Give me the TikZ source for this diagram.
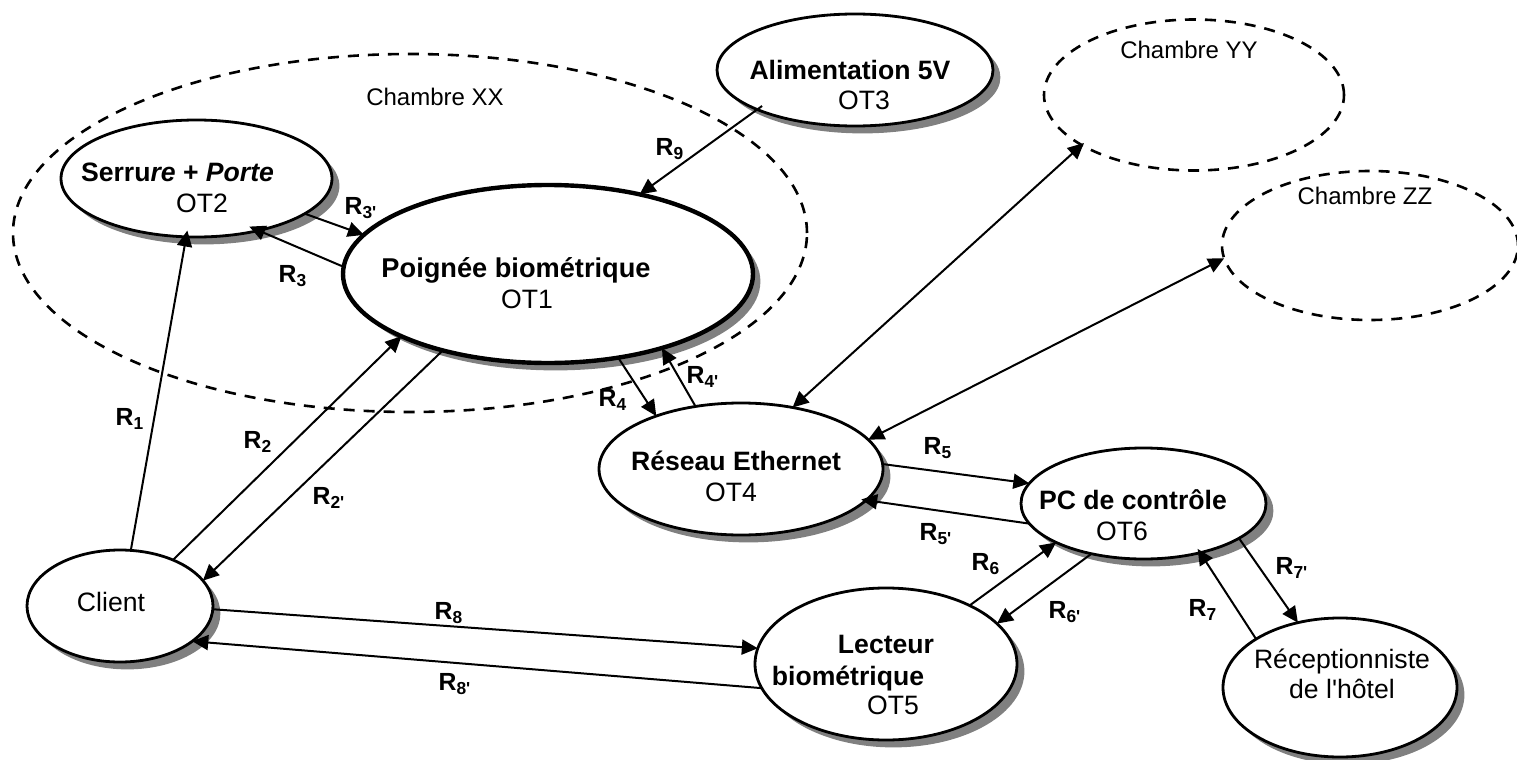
\documentclass[tikz,border=0pt]{standalone}
\usepackage{fontspec}
\usetikzlibrary{shapes.geometric,shadows,arrows.meta}
\newfontfamily\arial{Liberation Sans}
\newcommand{\relname}[1]{R\textsubscript{#1}}
\tikzset{
  oval/.style={ellipse,draw,line width=1.4pt,fill=white,inner sep=0pt,outer sep=0pt,
    drop shadow={shadow xshift=3.7pt,shadow yshift=-3.7pt,opacity=1,fill=black!50}},
  room/.style={ellipse,draw,line width=1.3pt,dash pattern=on 5.5pt off 4.5pt,inner sep=0pt,outer sep=0pt},
  txt/.style={font=\arial\fontsize{13.3}{15}\selectfont,inner sep=0pt,text height=9.5pt,text depth=0pt},
  roomtxt/.style={txt,font=\arial\fontsize{12}{14}\selectfont,text height=8.6pt},
  titre/.style={txt,font=\arial\fontsize{13.3}{15}\selectfont\bfseries},
  rel/.style={txt,font=\arial\fontsize{12.4}{14}\selectfont\bfseries,text height=8.9pt},
  link/.style={line width=1pt,-{Triangle[length=8pt,width=7.5pt]}},
  both/.style={line width=1pt,{Triangle[length=8pt,width=7.5pt]}-{Triangle[length=8pt,width=7.5pt]}}
}

\begin{document}
\begin{tikzpicture}[x=0.5pt,y=-0.5pt]
  \useasboundingbox (0,0) rectangle (1517,760);

  \node[room,minimum width=397pt,minimum height=179pt] (xx) at (410,233) {};
  \node[room,minimum width=150pt,minimum height=75.5pt] (yy) at (1194,95) {};
  \node[room,minimum width=148pt,minimum height=74.5pt] (zz) at (1370,245.5) {};

  \node[oval,minimum width=135.5pt,minimum height=58.5pt] (serrure) at (196.5,178.5) {};
  \node[oval,line width=2.2pt,minimum width=205pt,minimum height=89pt] (poignee) at (548,274) {};
  \node[oval,minimum width=138pt,minimum height=56pt] (alim) at (855,70) {};
  \node[oval,minimum width=142pt,minimum height=66pt] (reseau) at (741,469) {};
  \node[oval,minimum width=122.5pt,minimum height=55.5pt] (pc) at (1143.5,503.5) {};
  \node[oval,minimum width=131pt,minimum height=76pt] (lecteur) at (886,664) {};
  \node[oval,minimum width=117pt,minimum height=69.5pt] (recep) at (1340,687.5) {};
  \node[oval,minimum width=93pt,minimum height=56pt] (client) at (120,606) {};

  \node[roomtxt] (xxT) at (435,97) {Chambre XX};
  \node[roomtxt] (yyT) at (1189,50) {Chambre YY};
  \node[roomtxt] (zzT) at (1365,196) {Chambre ZZ};
  \node[titre] (serrureT) at (177.5,172) {Serru\textit{re} + \textit{Porte}};
  \node[txt] (serrureO) at (202,203) {OT2};
  \node[titre,font=\arial\fontsize{13.6}{15}\selectfont\bfseries] (poigneeT) at (516,268) {Poignée biométrique};
  \node[txt] (poigneeO) at (527,299) {OT1};
  \node[titre] (alimT) at (850,70) {Alimentation 5V};
  \node[txt] (alimO) at (864,100) {OT3};
  \node[titre] (reseauT) at (736,461) {Réseau Ethernet};
  \node[txt] (reseauO) at (731,492) {OT4};
  \node[titre] (pcT) at (1133,500) {PC de contrôle};
  \node[txt] (pcO) at (1122,531) {OT6};
  \node[titre] (lecteurT) at (886,644) {Lecteur};
  \node[titre] (lecteurU) at (848,676) {biométrique};
  \node[txt] (lecteurO) at (893,705) {OT5};
  \node[txt] (clientT) at (111,602) {Client};
  \node[txt] (recepT) at (1342,659) {Réceptionniste};
  \node[txt] (recepU) at (1342,689) {de l'hôtel};

  \draw[link,shorten >=-3.2pt] (client.79.1) -- (serrure.-100.1);
  \draw[link] (client.41.6) -- (poignee.-157.8);
  \draw[link] (poignee.-144.3) -- (client.17.6);
  \draw[link] (serrure.-18.1) -- (poignee.168.7);
  \draw[link,shorten >=-5pt] (poignee.178.9) -- (serrure.-40.5);
  \draw[link,shorten <=-3pt] (alim.-158.2) -- (poignee.41.7);
  \draw[link] (poignee.-50.1) -- (reseau.148.5);
  \draw[link] (reseau.126.3) -- (poignee.-33);
  \draw[link] (reseau.2.4) -- (pc.170.2);
  \draw[link,shorten >=-2.5pt] (pc.-170.1) -- (reseau.-14.3);
  \draw[link] (lecteur.35.1) -- (pc.-156.4);
  \draw[link] (pc.-136.1) -- (lecteur.20.1);
  \draw[link] (pc.-20.1) -- (recep.123.1);
  \draw[link,shorten >=-2.3pt] (recep.150.8) -- (pc.-41.9);
  \draw[link] (client.-2.5) -- (lecteur.173.8);
  \draw[link] (lecteur.-169.3) -- (client.-26.9);
  \draw[both,shorten <=-1.5pt] (yy.-156) -- (reseau.50.5);
  \draw[both] (zz.-175) -- (reseau.13.4);

  \node[rel] (r1) at (130,417) {\relname{1}};
  \node[rel] (r2) at (258,440) {\relname{2}};
  \node[rel] (r2p) at (329,496) {\relname{2'}};
  \node[rel] (r3) at (293,274) {\relname{3}};
  \node[rel] (r3p) at (361,206) {\relname{3'}};
  \node[rel] (r4) at (613,398) {\relname{4}};
  \node[rel] (r4p) at (703,375) {\relname{4'}};
  \node[rel] (r5) at (938,446) {\relname{5}};
  \node[rel] (r5p) at (936,532) {\relname{5'}};
  \node[rel] (r6) at (986,562) {\relname{6}};
  \node[rel] (r6p) at (1065,610) {\relname{6'}};
  \node[rel] (r7) at (1203,608) {\relname{7}};
  \node[rel] (r7p) at (1292,566) {\relname{7'}};
  \node[rel] (r8) at (449,611) {\relname{8}};
  \node[rel] (r8p) at (455,682) {\relname{8'}};
  \node[rel] (r9) at (670,147) {\relname{9}};
\end{tikzpicture}
\end{document}
